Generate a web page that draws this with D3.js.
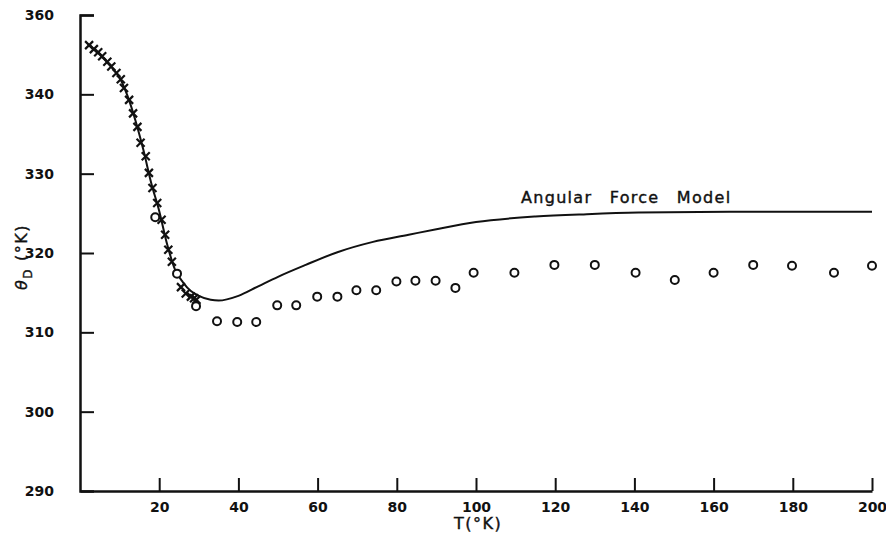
<!DOCTYPE html>
<html>
<head>
<meta charset="utf-8">
<script src="https://cdn.jsdelivr.net/npm/d3@7/dist/d3.min.js"></script>
<style>
  html, body { margin: 0; padding: 0; background: #fff; }
  svg { display: block; }
  .tick text { font-family: "DejaVu Sans", sans-serif; font-weight: bold; font-size: 14px; fill: #111; }
  .lbl { font-family: "DejaVu Sans", sans-serif; font-size: 16px; fill: #111; stroke: #111; stroke-width: 0.4; }
</style>
</head>
<body>
<svg id="chart" width="886" height="533"></svg>
<script>
var W = 886, H = 533;

// axis ticks (top label reads "360" in the original figure)
var tempTicks = [20, 40, 60, 80, 100, 120, 140, 160, 180, 200];
var thetaTicks = [290, 300, 310, 320, 330, 340, 350];
var thetaTickLabels = ["290", "300", "310", "320", "330", "340", "360"];

// angular force model curve
var modelT =     [2, 5, 8, 10, 12, 14, 16, 18, 20, 22, 24, 26, 28, 30, 33, 35, 40, 45, 50, 57, 65, 74, 83, 90, 100, 115, 128, 141, 164, 200];
var modelTheta = [346.3, 345.0, 343.4, 342.1, 339.8, 336.7, 333.0, 328.8, 325.3, 321.1, 317.9, 316.3, 315.2, 314.6, 314.1, 314.0, 314.6, 315.8, 317.0, 318.5, 320.1, 321.4, 322.3, 323.0, 323.9, 324.6, 324.9, 325.1, 325.2, 325.2];

// crosses (low temperature data)
var crossT =     [2.3, 3.5, 4.6, 5.6, 6.9, 7.9, 9.2, 10.3, 11.1, 12.4, 13.4, 14.5, 15.3, 16.6, 17.4, 18.3, 19.5, 20.6, 21.5, 22.3, 23.2, 25.5, 26.7, 28.0, 28.8, 29.4];
var crossTheta = [346.2, 345.7, 345.3, 344.8, 344.1, 343.5, 342.7, 341.9, 340.8, 339.3, 337.6, 335.9, 333.9, 332.2, 330.1, 328.2, 326.3, 324.2, 322.3, 320.4, 318.9, 315.7, 314.9, 314.5, 314.3, 314.1];

// open circles
var circleT =     [19.0, 24.5, 29.3, 34.6, 39.7, 44.5, 49.8, 54.6, 59.9, 65.0, 69.8, 74.8, 79.9, 84.7, 89.8, 94.8, 99.4, 109.7, 119.8, 130.0, 140.3, 150.2, 160.0, 170.0, 179.8, 190.4, 200.0];
var circleTheta = [324.5, 317.4, 313.3, 311.4, 311.3, 311.3, 313.4, 313.4, 314.5, 314.5, 315.3, 315.3, 316.4, 316.5, 316.5, 315.6, 317.5, 317.5, 318.5, 318.5, 317.5, 316.6, 317.5, 318.5, 318.4, 317.5, 318.4];

var x = d3.scaleLinear().domain([0, 200]).range([80, 872]);
var y = d3.scaleLinear().domain([290, 350]).range([491, 15]);

var svg = d3.select("#chart");
svg.append("rect").attr("width", W).attr("height", H).attr("fill", "#fff");

// x axis, ticks pointing inward
var xAxis = d3.axisBottom(x)
    .tickValues(tempTicks)
    .tickSizeInner(-13)
    .tickSizeOuter(0)
    .tickPadding(11)
    .tickFormat(d3.format("d"));

svg.append("g")
    .attr("class", "xaxis")
    .attr("transform", "translate(0," + y(290) + ")")
    .call(xAxis);

var yAxis = d3.axisLeft(y)
    .tickValues(thetaTicks)
    .tickSizeInner(-14)
    .tickSizeOuter(-14)
    .tickPadding(26)
    .tickFormat(function(d, i) { return thetaTickLabels[i]; });

svg.append("g")
    .attr("class", "yaxis")
    .attr("transform", "translate(" + x(0) + ",0)")
    .call(yAxis);

svg.selectAll(".xaxis path, .yaxis path").attr("stroke", "#111").attr("stroke-width", 2.5);
svg.selectAll(".tick line").attr("stroke", "#111").attr("stroke-width", 2);
svg.select(".yaxis .tick:first-of-type line").remove();

// model curve
var modelPts = modelT.map(function(t, i) { return [t, modelTheta[i]]; });
var line = d3.line()
    .x(function(d) { return x(d[0]); })
    .y(function(d) { return y(d[1]); })
    .curve(d3.curveMonotoneX);

svg.append("path")
    .datum(modelPts)
    .attr("d", line)
    .attr("fill", "none")
    .attr("stroke", "#111")
    .attr("stroke-width", 2);

// crosses
var crossPts = crossT.map(function(t, i) { return [t, crossTheta[i]]; });
var s = 4;
svg.append("g").selectAll("path.cross")
    .data(crossPts)
    .enter()
    .append("path")
    .attr("class", "cross")
    .attr("d", function(d) {
        var cx = x(d[0]), cy = y(d[1]);
        return "M" + (cx - s) + "," + (cy - s) + "L" + (cx + s) + "," + (cy + s) +
               "M" + (cx - s) + "," + (cy + s) + "L" + (cx + s) + "," + (cy - s);
    })
    .attr("stroke", "#111")
    .attr("stroke-width", 2.2);

// circles
var circlePts = circleT.map(function(t, i) { return [t, circleTheta[i]]; });
svg.append("g").selectAll("circle")
    .data(circlePts)
    .enter()
    .append("circle")
    .attr("cx", function(d) { return x(d[0]); })
    .attr("cy", function(d) { return y(d[1]); })
    .attr("r", 4)
    .attr("fill", "#fff")
    .attr("stroke", "#111")
    .attr("stroke-width", 2);

// labels
svg.append("text")
    .attr("class", "lbl")
    .attr("x", 521)
    .attr("y", 203)
    .attr("letter-spacing", 1.3)
    .attr("word-spacing", 11)
    .text("Angular Force Model");

svg.append("text")
    .attr("class", "lbl")
    .attr("x", 478)
    .attr("y", 529)
    .attr("text-anchor", "middle")
    .attr("letter-spacing", 1.5)
    .text("T(°K)");

var yt = svg.append("text")
    .attr("class", "lbl")
    .attr("transform", "translate(27,257) rotate(-90)")
    .attr("text-anchor", "middle")
    .attr("letter-spacing", 1.5);
yt.append("tspan").attr("font-style", "italic").text("θ");
yt.append("tspan").attr("dy", 5).attr("font-size", 12).text("D");
yt.append("tspan").attr("dy", -5).attr("dx", 7).text("(°K)");
</script>
</body>
</html>
